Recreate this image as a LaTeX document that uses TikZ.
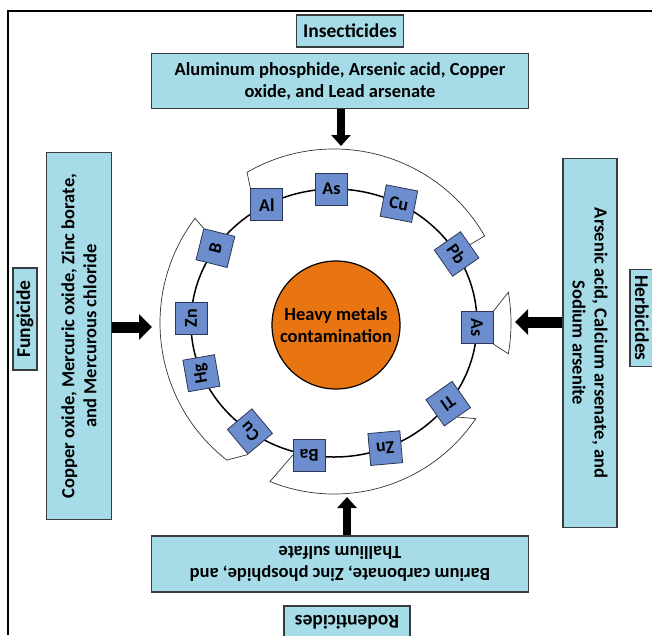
\documentclass[tikz,border=0pt]{standalone}
\usepackage{fontspec}
\setmainfont{Carlito}
\usetikzlibrary{arrows.meta,calc}
\definecolor{dropblue}{RGB}{166,220,232}
\definecolor{boxedge}{RGB}{55,60,65}
\definecolor{metalblue}{RGB}{108,142,206}
\definecolor{metaledge}{RGB}{45,55,85}
\definecolor{heavyorange}{RGB}{232,117,17}
\tikzset{
  labelbox/.style={draw=boxedge,line width=1.2pt,fill=dropblue,inner sep=0pt,align=center,
    font=\bfseries\fontsize{19.5}{22}\selectfont},
  listbox/.style={labelbox,font=\bfseries\fontsize{18.5}{22}\selectfont},
  metal/.style={draw=metaledge,line width=0.8pt,fill=metalblue,minimum width=32pt,
    minimum height=32pt,inner sep=0pt,font=\bfseries\fontsize{18}{18}\selectfont},
  bracket/.style={draw=black!80,line width=0.7pt},
  vfat/.style={line width=8pt,-{Triangle[width=19pt,length=11pt]}},
  hfat/.style={line width=11pt,-{Triangle[width=25pt,length=13pt]}},
}
\begin{document}
\begin{tikzpicture}[x=1pt,y=1pt]
  \useasboundingbox (0,0) rectangle (652,-635);
  \draw[line width=1.4pt] (652,-11) -- (8,-11) -- (8,-635);

  % ring of metals
  \coordinate (C) at (334,-323);
  \draw[line width=1.5pt] (C) ellipse [x radius=143, y radius=134];
  \node[circle,draw,line width=1.2pt,fill=heavyorange,minimum size=128pt,align=center,
    font=\bfseries\fontsize{18.5}{22}\selectfont] (heavy) at (336,-325) {Heavy metals\\contamination};

  \foreach \name/\ang/\sym/\rot in {al/118/Al/0, ast/91/As/0, cut/63/Cu/-11, pb/31/Pb/-55,
      asr/-2/As/-90, tl/-37/Tl/215, znb/-69/Zn/185, ba/-100/Ba/180,
      cub/234/Cu/130, hg/202/Hg/100, znl/178/Zn/90, b/146/B/76}
    \node[metal,rotate=\rot] (\name) at ($(C)+(\ang:143 and 134)$) {\sym};

  \draw[bracket] (al.north west) -- ($(C)+(120:174)$) arc[start angle=120,end angle=30,radius=174] -- (pb.north);
  \draw[bracket] (asr.north west) -- ($(C)+(10:177)$) arc[start angle=10,end angle=-10,radius=177] -- (asr.north east);
  \draw[bracket] (b.north east) -- ($(C)+(143:174)$) arc[start angle=143,end angle=232,radius=174] -- (cub.north west);
  \draw[bracket] (ba.east) -- ($(C)+(248:171)$) arc[start angle=248,end angle=326,radius=171] -- (tl.north);

  % sources
  \node[labelbox,minimum width=107pt,minimum height=32pt] (ins) at (350,-31) {Insecticides};
  \node[listbox,minimum width=377pt,minimum height=55pt] (insdet) at (340,-81)
    {Aluminum phosphide, Arsenic acid, Copper\\oxide, and Lead arsenate};
  \node[labelbox,minimum width=102pt,minimum height=24pt,rotate=90] (fung) at (25,-319) {Fungicide};
  \node[listbox,minimum width=367pt,minimum height=65pt,rotate=90] (fungdet) at (79,-336)
    {Copper oxide, Mercuric oxide, Zinc borate,\\and Mercurous chloride};
  \node[listbox,minimum width=369pt,minimum height=54pt,rotate=-90] (herbdet) at (590,-343)
    {Arsenic acid, Calcium arsenate, and\\Sodium arsenite};
  \node[labelbox,minimum width=97pt,minimum height=24pt,rotate=-90] (herb) at (642,-318) {Herbicides};
  \node[listbox,minimum width=377pt,minimum height=56pt,rotate=180] (roddet) at (340,-564)
    {Barium carbonate, Zinc phosphide, and\\Thallium sulfate};
  \node[labelbox,minimum width=126pt,minimum height=32pt,rotate=180] (rod) at (347,-622) {Rodenticides};

  \coordinate (topin) at (341,-146);
  \coordinate (leftin) at (152,-327);
  \coordinate (rightin) at (515,-322);
  \coordinate (botin) at (347,-497);
  \draw[vfat] (insdet.south -| topin) -- (topin);
  \draw[hfat] (fungdet.south |- leftin) -- (leftin);
  \draw[hfat] (herbdet.south |- rightin) -- (rightin);
  \draw[vfat] (roddet.south -| botin) -- (botin);
\end{tikzpicture}
\end{document}
